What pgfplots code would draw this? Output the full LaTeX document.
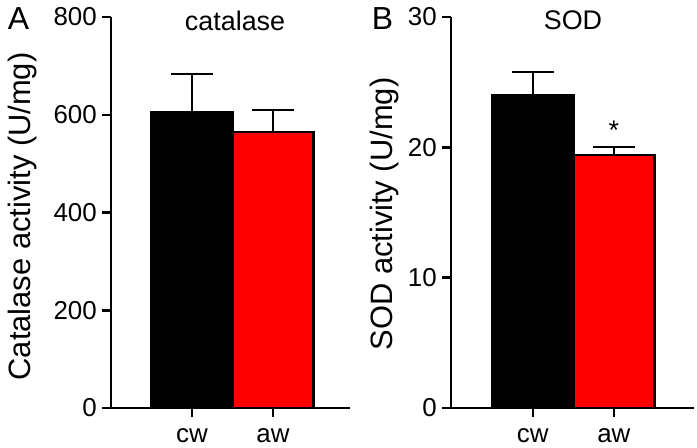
\documentclass[border=0pt]{standalone}
\usepackage{fontspec}
\setmainfont{Liberation Sans}
\usepackage{pgfplots}
\pgfplotsset{compat=1.18}
\begin{document}
\begin{tikzpicture}
\pgfplotsset{
  panel/.style={
    scale only axis, height=391bp,
    axis x line*=bottom, axis y line*=left,
    axis line style={line width=2.5bp, -},
    tick style={line width=2.5bp, black},
    tick align=outside,
    major tick length=9bp,
    xtick={1,2}, xticklabels={cw,aw},
    ymin=0,
    ybar, bar width=1, bar shift=0pt,
    /pgf/number format/assume math mode=true,
    every tick label/.append style={font=\fontsize{26}{28}\selectfont},
    yticklabel style={inner sep=5bp},
    xticklabel style={inner sep=0bp, yshift=-11.5bp},
    error bars/y dir=plus, error bars/y explicit,
    error bars/error bar style={line width=2.2bp, black},
    error bars/error mark options={rotate=90, mark size=21bp, line width=2.2bp, black},
    clip=false,
    title style={font=\fontsize{27}{29}\selectfont, anchor=center},
    ylabel style={font=\fontsize{31}{33}\selectfont, anchor=center},
  }
}
\path[use as bounding box] (0,0) rectangle (697bp,448bp);
% Panel A
\begin{axis}[panel,
  at={(111bp,40bp)}, anchor=south west, width=239bp,
  xmin=0, xmax=2.95, ymax=800, ytick={0,200,400,600,800},
  title={catalase}, title style={at={(axis description cs:0.519,0.976)}},
  ylabel={Catalase activity (U/mg)}, ylabel style={at={(axis description cs:-0.372,0.49)}},
]
\addplot[fill=black, draw=black, line width=2.5bp] coordinates {(1,605) +- (0,78)};
\addplot[fill=red, draw=black, line width=2.5bp] coordinates {(2,565) +- (0,44)};
\node[font=\fontsize{32}{34}\selectfont, anchor=center] at (axis description cs:-0.387,0.9957) {A};
\end{axis}
% Panel B
\begin{axis}[panel,
  at={(451bp,40bp)}, anchor=south west, width=243bp,
  xmin=-0.01, xmax=2.99, ymax=30, ytick={0,10,20,30},
  title={SOD}, title style={at={(axis description cs:0.502,0.976)}},
  ylabel={SOD activity (U/mg)}, ylabel style={at={(axis description cs:-0.272,0.496)}},
]
\addplot[fill=black, draw=black, line width=2.5bp] coordinates {(1,24.0) +- (0,1.8)};
\addplot[fill=red, draw=black, line width=2.5bp] coordinates {(2,19.4) +- (0,0.65)};
\node[font=\fontsize{27}{29}\selectfont, anchor=center] at (axis cs:2,21.3) {*};
\node[font=\fontsize{32}{34}\selectfont, anchor=center] at (axis description cs:-0.282,0.9957) {B};
\end{axis}
\end{tikzpicture}
\end{document}
